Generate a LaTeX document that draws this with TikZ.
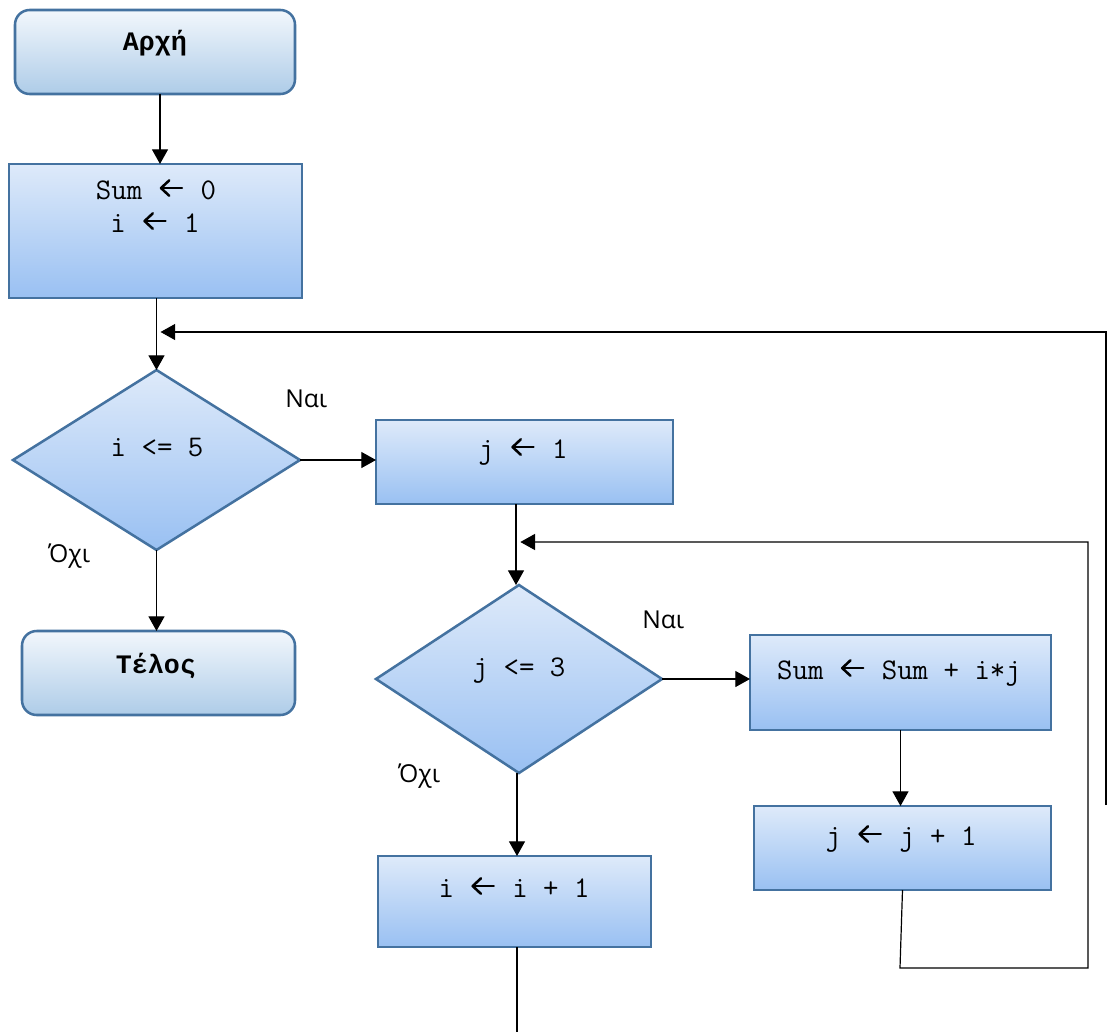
\documentclass[tikz,border=0pt]{standalone}
\usepackage{fontspec}
\setmainfont{Open Sans}
\newfontfamily\greekmono{Liberation Mono}
\usetikzlibrary{shapes.geometric,arrows.meta}

\definecolor{boxedge}{RGB}{68,114,160}
\definecolor{boxtop}{RGB}{222,234,250}
\definecolor{boxbot}{RGB}{153,192,242}
\definecolor{termtop}{RGB}{242,247,252}
\definecolor{termbot}{RGB}{174,204,232}

% assignment arrow used inside the code texts: a chevron-headed left arrow
\newcommand\assignto{\hspace{1.5pt}\tikz[baseline=-8.2pt]{%
  \draw[line width=1.4pt, line cap=round] (16.5pt,0pt) -- (1pt,0pt);
  \draw[line width=1.9pt, line cap=round, line join=round]
    (6.8pt,5.8pt) -- (0.6pt,0pt) -- (6.8pt,-5.8pt);}\hspace{1.5pt}}

\tikzset{
  shell/.style={draw=boxedge, line width=1.9pt, inner sep=0pt, outer sep=0pt},
  proc/.style 2 args={shell, top color=boxtop, bottom color=boxbot,
    minimum width=#1*0.75pt, minimum height=#2*0.75pt},
  term/.style 2 args={shell, rounded corners=11pt, top color=termtop, bottom color=termbot,
    minimum width=#1*0.75pt, minimum height=#2*0.75pt},
  dec/.style 2 args={shell, diamond, top color=boxtop, bottom color=boxbot,
    minimum width=#1*0.75pt, minimum height=#2*0.75pt},
  code/.style={font=\fontsize{22.5}{24}\selectfont\ttfamily, anchor=base, inner sep=0pt},
  boldcode/.style={anchor=base, inner sep=0pt, font=\fontsize{20}{24}\selectfont\greekmono\bfseries},
  lbl/.style={font=\fontsize{18.5}{20}\selectfont, anchor=base west, inner sep=0pt},
  wire/.style={line width=0.9pt},
  arr/.style={wire, -{Triangle[length=11pt,width=12pt]}},
}

\begin{document}
\begin{tikzpicture}[x=0.75pt,y=-0.75pt]
\useasboundingbox (0,0) rectangle (1108,1032);

% shapes
\node[term={280}{84}]  (start)  at (155,52)    {};
\node[proc={293}{134}] (init)   at (155.5,231) {};
\node[dec={287}{180}]  (condi)  at (156.5,460) {};
\node[term={273}{84}]  (stop)   at (158.5,673) {};
\node[proc={297}{84}]  (setj)   at (524.5,462) {};
\node[dec={286}{188}]  (condj)  at (519,679)   {};
\node[proc={301}{95}]  (accum)  at (900.5,682.5) {};
\node[proc={297}{84}]  (incj)   at (902.5,848) {};
\node[proc={273}{91}]  (inci)   at (514.5,901.5) {};

% texts
\node[boldcode] (tstart) at (155,50)  {Αρχή};
\node[code] (tinit1) at (156,199) {Sum \assignto{} 0};
\node[code] (tinit2) at (155,232) {i \assignto{} 1};
\node[code] (tcondi) at (157,456) {i <= 5};
\node[boldcode] (tstop) at (156,673) {Τέλος};
\node[code] (tsetj)  at (523,458) {j \assignto{} 1};
\node[code] (tcondj) at (519,676) {j <= 3};
\node[code] (taccum) at (899,679) {Sum \assignto{} Sum + i*j};
\node[code] (tincj)  at (901,845) {j \assignto{} j + 1};
\node[code] (tinci)  at (514,897) {i \assignto{} i + 1};

\node[lbl] (yes1) at (285,407) {Ναι};
\node[lbl] (no1)  at (48,562)  {Όχι};
\node[lbl] (yes2) at (642,628) {Ναι};
\node[lbl] (no2)  at (398,782) {Όχι};

% loop corner points
\coordinate (outerlow) at (1106,805);
\coordinate (outertop) at (1106,332);
\coordinate (innerlow) at (900,968);
\coordinate (innerrt)  at (1088,968);
\coordinate (innertop) at (1088,542);
\coordinate (tail)     at (517,1032);

% connectors
\draw[arr] ([xshift=3.75pt]start.south) -- ([xshift=3.75pt]start.south |- init.north);
\draw[arr] (condi.north |- init.south) -- (condi.north);
\draw[arr] (outerlow) -- (outertop) -- ([xshift=3pt]condi.north |- outertop);
\draw[arr] (condi.east) -- (condi.east -| setj.west);
\draw[arr] (condi.south) -- (condi.south |- stop.north);
\draw[arr] ([xshift=-2.25pt]condj.north |- setj.south) -- ([xshift=-2.25pt]condj.north);
\draw[arr] (incj.south) -- (innerlow) -- (innerrt) -- (innertop) -- ([xshift=1pt]condj.north |- innertop);
\draw[arr] (condj.east) -- (condj.east -| accum.west);
\draw[arr] (accum.south) -- (accum.south |- incj.north);
\draw[arr] ([xshift=-1.5pt]condj.south) -- ([xshift=-1.5pt]condj.south |- inci.north);
\draw[wire] (tail |- inci.south) -- (tail);
\end{tikzpicture}
\end{document}
